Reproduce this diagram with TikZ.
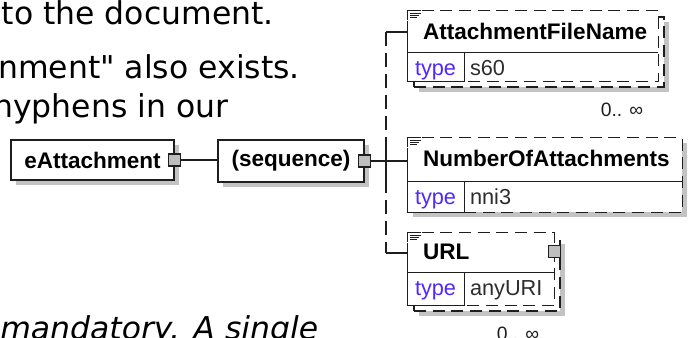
\documentclass[tikz,border=0pt]{standalone}
\usepackage{fontspec}
\usepackage{tikz}
\usetikzlibrary{calc, shadows}

\newfontfamily\bodyfont{DejaVu Sans}
\newfontfamily\diagfont{Liberation Sans}
\newcommand{\pxu}{0.75pt}

\definecolor{linecol}{RGB}{30,30,30}
\definecolor{shadowcol}{RGB}{195,195,195}
\definecolor{handlecol}{RGB}{190,190,190}
\definecolor{typecol}{RGB}{80,40,255}
\definecolor{valuecol}{RGB}{45,45,45}

\tikzset{
  boxline/.style={draw=linecol, line width=0.8pt},
  dashline/.style={draw=linecol, line width=0.8pt, dash pattern=on 9pt off 5pt},
  busline/.style={draw=linecol, line width=0.8pt, dash pattern=on 10.5pt off 5.25pt},
  iconline/.style={draw=linecol, line width=0.6pt},
  boxshadow/.style={drop shadow={shadow xshift=3.75pt, shadow yshift=-3.75pt, opacity=1, fill=shadowcol}},
  compbox/.style={boxline, fill=white, boxshadow, inner sep=0pt, font=\diagfont\bfseries\fontsize{16.9}{18}\selectfont},
  handle/.style={boxline, fill=handlecol, minimum size=12*\pxu, inner sep=0pt},
  elemback/.style={dashline, fill=white, boxshadow, inner sep=0pt},
  elemfront/.style={fill=white, inner sep=0pt},
  eltitle/.style={font=\diagfont\bfseries\fontsize{16.9}{18}\selectfont, inner sep=0pt, anchor=base west},
  typelabel/.style={font=\diagfont\fontsize{16.3}{18}\selectfont, text=typecol, inner sep=0pt, anchor=base west},
  typevalue/.style={font=\diagfont\fontsize{16.3}{18}\selectfont, text=valuecol, inner sep=0pt, anchor=base west},
  multlabel/.style={font=\diagfont\fontsize{14.5}{16}\selectfont, text=linecol, inner sep=0pt, anchor=base east},
  bodytext/.style={font=\bodyfont\fontsize{23.6}{28}\selectfont, inner sep=0pt, anchor=base west},
  bodyital/.style={font=\bodyfont\itshape\fontsize{23.6}{28}\selectfont, inner sep=0pt, anchor=base west},
}

\begin{document}
\begin{tikzpicture}[x=0.75pt, y=-0.75pt]
    \useasboundingbox (0,0) rectangle (688,338);
    \clip (0,0) rectangle (688,338);

    % text of the page around the diagram
    \node[bodytext] (para1) at (1.5,25) {to the document.};
    \node[bodytext] (para2) at (-2,79) {nment" also exists.};
    \node[bodytext] (para3) at (-7,118) {hyphens in our};
    \node[bodyital] (para4) at (0,339) {mandatory. A single};

    % root element and sequence
    \node[compbox, minimum width=163*\pxu, minimum height=40*\pxu] (eatt) at (92.5,160) {eAttachment};
    \node[compbox, minimum width=146*\pxu, minimum height=42*\pxu] (seq) at (291,161) {(sequence)};

    % child elements
    \node[elemback, minimum width=250*\pxu, minimum height=70*\pxu] (afnback) at (539,52) {};
    \node[elemfront, minimum width=250*\pxu, minimum height=70*\pxu] (afn) at (533,46) {};
    \node[elemfront, boxshadow, minimum width=274*\pxu, minimum height=74*\pxu] (noa) at (545,175) {};
    \node[elemback, minimum width=146*\pxu, minimum height=72*\pxu] (urlback) at (487,275) {};
    \node[elemfront, minimum width=146*\pxu, minimum height=72*\pxu] (url) at (481,269) {};

    \foreach \n/\sy in {afn/42, noa/44, url/40} {
        \draw[dashline] ($(\n.north west)+(14,0)$) -- (\n.north east) -- (\n.south east) -- (\n.south west);
        \draw[boxline] ($(\n.north west)+(0,10)$) -- (\n.south west);
        \draw[boxline] ($(\n.north west)+(0,\sy)$) -- ($(\n.north east)+(0,\sy)$);
        \draw[boxline] ($(\n.north west)+(0,\sy)$) rectangle ($(\n.south west)+(57,0)$);
        % documentation icon
        \draw[iconline] ($(\n.north west)+(0,9)$) -- (\n.north west) -- ($(\n.north west)+(13,0)$);
        \foreach \k/\w in {2.5/11, 4.5/9, 6.5/7}
            \draw[iconline] ($(\n.north west)+(2,\k)$) -- ++(\w,0);
    }

    \node[eltitle] (afntitle) at ($(afn.north west)+(15,29)$) {AttachmentFileName};
    \node[typelabel] (afntype) at ($(afn.north west)+(7,65)$) {type};
    \node[typevalue] (afnval) at ($(afn.north west)+(62,65)$) {s60};
    \node[multlabel] (afnmult) at ($(afnback.south east)+(-21,29)$) {0.. ∞};

    \node[eltitle] (noatitle) at ($(noa.north west)+(15,29)$) {NumberOfAttachments};
    \node[typelabel] (noatype) at ($(noa.north west)+(7,67)$) {type};
    \node[typevalue] (noaval) at ($(noa.north west)+(62,67)$) {nni3};

    \node[eltitle] (urltitle) at ($(url.north west)+(15,27)$) {URL};
    \node[typelabel] (urltype) at ($(url.north west)+(7,63)$) {type};
    \node[typevalue] (urlval) at ($(url.north west)+(62,63)$) {anyURI};
    \node[multlabel] (urlmult) at ($(urlback.south east)+(-21,29)$) {0.. ∞};

    % handles
    \node[handle] (eatth) at (eatt.east) {};
    \node[handle] (seqh) at (seq.east) {};
    \node[handle] (urlh) at ($(url.north east)+(0,18.5)$) {};

    % connectors
    \coordinate (bustop) at (386,32);
    \coordinate (busbot) at (386,253);
    \draw[boxline] (eatth.east) -- (eatth.east -| seq.west);
    \draw[busline] (bustop) -- (busbot);
    \draw[boxline] ($(bustop |- seqh.east)+(0,-23)$) -- ($(bustop |- seqh.east)+(0,23)$);
    \draw[boxline] (seqh.east) -- (seqh.east -| noa.west);
    \draw[boxline] (bustop) -- (bustop -| afn.west);
    \draw[boxline] (busbot) -- (busbot -| url.west);
\end{tikzpicture}
\end{document}
